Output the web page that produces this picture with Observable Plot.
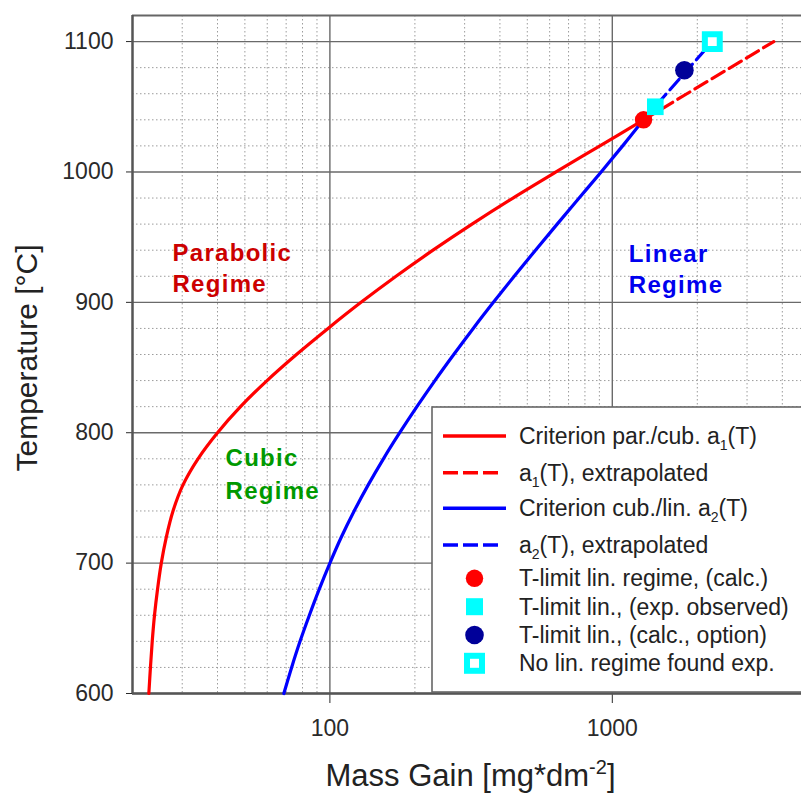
<!DOCTYPE html>
<html>
<head>
<meta charset="utf-8">
<script src="https://cdn.jsdelivr.net/npm/d3@7"></script>
<script src="https://cdn.jsdelivr.net/npm/@observablehq/plot@0.6"></script>
<style>
  body { margin: 0; background: #fff; }
  #chart { width: 801px; height: 795px; }
</style>
</head>
<body>
<div id="chart"></div>
<script>
// ---- Data ----
// Criterion par./cub. a1(T): temperature [°C] and mass gain [mg*dm^-2]
const a1Temp = [600, 620, 640, 660, 680, 700, 720, 740, 760, 780, 800, 820, 840, 860, 880, 900, 920, 940, 960, 980, 1000, 1020, 1040];
const a1Mass = [22.85, 23.15, 23.49, 23.93, 24.53, 25.29, 26.35, 27.83, 30.19, 34.12, 40.0, 48.25, 59.9, 76.15, 98.5, 128.9, 171.5, 231.8, 318.6, 445, 632, 904, 1290];
// Criterion cub./lin. a2(T)
const a2Temp = [600, 620, 640, 660, 680, 700, 720, 740, 760, 780, 800, 820, 840, 860, 880, 900, 920, 940, 960, 980, 1000, 1020, 1040];
const a2Mass = [68.7, 73.2, 78.4, 84.6, 91.7, 100, 109.8, 121.9, 136.7, 154.7, 176.7, 203.3, 235.4, 274.5, 321.7, 379.3, 449.4, 534.6, 638, 763, 913, 1088, 1290];
// extrapolations
const a1ExtTemp = [1040, 1100];
const a1ExtMass = [1290, 3730];
const a2ExtTemp = [1040, 1100];
const a2ExtMass = [1290, 2260];
// T-limit markers
const markerLabels = ["T-limit lin. regime, (calc.)", "T-limit lin., (exp. observed)", "T-limit lin., (calc., option)", "No lin. regime found exp."];
const markerMass = [1290, 1420, 1800, 2260];
const markerTemp = [1040, 1050, 1078, 1100];
// legend line labels ("_1" marks a subscript)
const lineLabels = ["Criterion par./cub. a_1(T)", "a_1(T), extrapolated", "Criterion cub./lin. a_2(T)", "a_2(T), extrapolated"];
// ticks and grid
const yTicks = [600, 700, 800, 900, 1000, 1100];
const xTicks = [100, 1000];
const yMinor = [620, 640, 660, 680, 720, 740, 760, 780, 820, 840, 860, 880, 920, 940, 960, 980, 1020, 1040, 1060, 1080];
const xMinor = [30, 40, 50, 60, 70, 80, 90, 200, 300, 400, 500, 600, 700, 800, 900, 2000, 3000, 4000];
const xDomain = [20, 4677];
const yDomain = [600, 1120];
// regime annotations
const regimeText = ["Parabolic", "Regime", "Cubic", "Regime", "Linear", "Regime"];
const regimeMass = [27.7, 27.7, 42.7, 42.7, 1144, 1144];
const regimeTemp = [931.6, 907.8, 774.3, 748.8, 930.8, 907.0];
const regimeGroup = ["par", "par", "cub", "cub", "lin", "lin"];

// ---- Build tables ----
const a1 = a1Temp.map((t, i) => ({t, m: a1Mass[i]}));
const a2 = a2Temp.map((t, i) => ({t, m: a2Mass[i]}));
const a1Ext = a1ExtTemp.map((t, i) => ({t, m: a1ExtMass[i]}));
const a2Ext = a2ExtTemp.map((t, i) => ({t, m: a2ExtMass[i]}));
const markers = markerTemp.map((t, i) => ({t, m: markerMass[i], label: markerLabels[i]}));
const regimes = regimeText.map((s, i) => ({s, m: regimeMass[i], t: regimeTemp[i], g: regimeGroup[i]}));

const RED = "#ff0000", BLUE = "#0000ff", CYAN = "#00ffff", NAVY = "#000099";
const regimeColors = {par: "#cc0000", cub: "#009900", lin: "#0000ee"};
const FONT = "'Liberation Sans', Arial, Helvetica, sans-serif";
const gridMinor = {stroke: "#9c9c9c", strokeWidth: 1, strokeDasharray: "1.5,2.5"};
const gridMajor = {stroke: "#6a6a6a", strokeWidth: 1.4};

const plot = Plot.plot({
  width: 801,
  height: 795,
  marginLeft: 132,
  marginRight: 0,
  marginTop: 15,
  marginBottom: 102,
  style: {fontFamily: FONT, fontSize: "23px", color: "#2a2a2a", background: "#fff", overflow: "hidden"},
  x: {type: "log", domain: xDomain, ticks: xTicks, tickFormat: d => String(d), tickSize: 10, tickPadding: 16, label: null},
  y: {domain: yDomain, ticks: yTicks, tickFormat: d => String(d), tickSize: 6, tickPadding: 13, label: null},
  marks: [
    Plot.ruleY(yMinor, gridMinor),
    Plot.ruleX(xMinor, gridMinor),
    Plot.ruleY(yTicks, gridMajor),
    Plot.ruleX(xTicks, gridMajor),
    Plot.ruleY([yDomain[1]], {stroke: "#666", strokeWidth: 2}),
    Plot.ruleX([xDomain[0]], {stroke: "#555", strokeWidth: 2.5}),
    Plot.ruleY([yDomain[0]], {stroke: "#555", strokeWidth: 2.5}),
    Plot.line(a1, {x: "m", y: "t", stroke: RED, strokeWidth: 3.2, curve: "catmull-rom"}),
    Plot.line(a2, {x: "m", y: "t", stroke: BLUE, strokeWidth: 3.2, curve: "catmull-rom"}),
    Plot.line(a1Ext, {x: "m", y: "t", stroke: RED, strokeWidth: 3.2, strokeDasharray: "14,6"}),
    Plot.line(a2Ext, {x: "m", y: "t", stroke: BLUE, strokeWidth: 3.2, strokeDasharray: "14,6"}),
    Plot.dot([markers[0]], {x: "m", y: "t", r: 8.7, fill: RED, symbol: "circle"}),
    Plot.dot([markers[1]], {x: "m", y: "t", r: 9.4, fill: CYAN, symbol: "square"}),
    Plot.dot([markers[2]], {x: "m", y: "t", r: 9.3, fill: NAVY, symbol: "circle"}),
    Plot.dot([markers[3]], {x: "m", y: "t", r: 8.4, fill: "#fff", stroke: CYAN, strokeWidth: 6, symbol: "square"}),
    Plot.text(regimes, {x: "m", y: "t", text: "s", fill: d => regimeColors[d.g], fontSize: 24, fontWeight: "bold",
      textAnchor: "start", lineAnchor: "bottom", className: "regime"})
  ]
});

document.getElementById("chart").appendChild(plot);

const svg = d3.select(plot);
svg.selectAll(".regime text").attr("letter-spacing", "1.3px");

// axis titles
const xt = svg.append("text")
  .attr("x", 470.5).attr("y", 786)
  .attr("text-anchor", "middle")
  .attr("font-family", FONT).attr("font-size", 31).attr("fill", "#222");
xt.append("tspan").text("Mass Gain [mg*dm");
xt.append("tspan").attr("font-size", 20).attr("dy", -12).text("-2");
xt.append("tspan").attr("dy", 12).text("]");

svg.append("text")
  .attr("transform", "translate(37,358) rotate(-90)")
  .attr("text-anchor", "middle")
  .attr("font-family", FONT).attr("font-size", 30).attr("fill", "#222")
  .text("Temperature [°C]");

// legend
const lg = svg.append("g").attr("font-family", FONT).attr("font-size", 23).attr("fill", "#222")
  .attr("text-anchor", "start");
lg.append("rect").attr("x", 432).attr("y", 407).attr("width", 380).attr("height", 285)
  .attr("fill", "#fff").attr("stroke", "#666").attr("stroke-width", 1.6);

function addLabel(g, x, y, label) {
  const t = g.append("text").attr("x", x).attr("y", y).attr("dy", "0.35em").attr("text-anchor", "start");
  const parts = label.split(/_(\d)/);
  parts.forEach((p, i) => {
    if (i % 2 === 1) {
      t.append("tspan").attr("font-size", 14).attr("dy", 6).text(p);
    } else if (p.length) {
      const ts = t.append("tspan").text(p);
      if (i > 0) ts.attr("dy", -6);
    }
  });
}

const lineRowY = [436, 472.7, 508.3, 545];
const lineStyles = [
  {stroke: RED, dash: null}, {stroke: RED, dash: "15,5"},
  {stroke: BLUE, dash: null}, {stroke: BLUE, dash: "15,5"}
];
lineLabels.forEach((lab, i) => {
  const y = lineRowY[i];
  const ln = lg.append("line").attr("x1", 443).attr("x2", 506).attr("y1", y).attr("y2", y)
    .attr("stroke", lineStyles[i].stroke).attr("stroke-width", 3.4);
  if (lineStyles[i].dash) ln.attr("stroke-dasharray", lineStyles[i].dash).attr("x2", 500);
  addLabel(lg, 519, y, lab);
});

const markRowY = [578.3, 606.7, 635, 663.3];
const mx = 474.5;
markerLabels.forEach((lab, i) => {
  const y = markRowY[i];
  if (i === 0) lg.append("circle").attr("cx", mx).attr("cy", y).attr("r", 8.7).attr("fill", RED);
  if (i === 1) lg.append("rect").attr("x", mx - 8.5).attr("y", y - 8.5).attr("width", 17).attr("height", 17).attr("fill", CYAN);
  if (i === 2) lg.append("circle").attr("cx", mx).attr("cy", y).attr("r", 9.3).attr("fill", NAVY);
  if (i === 3) lg.append("rect").attr("x", mx - 7.5).attr("y", y - 7.5).attr("width", 15).attr("height", 15)
    .attr("fill", "#fff").attr("stroke", CYAN).attr("stroke-width", 6);
  addLabel(lg, 519, y, lab);
});
</script>
</body>
</html>
